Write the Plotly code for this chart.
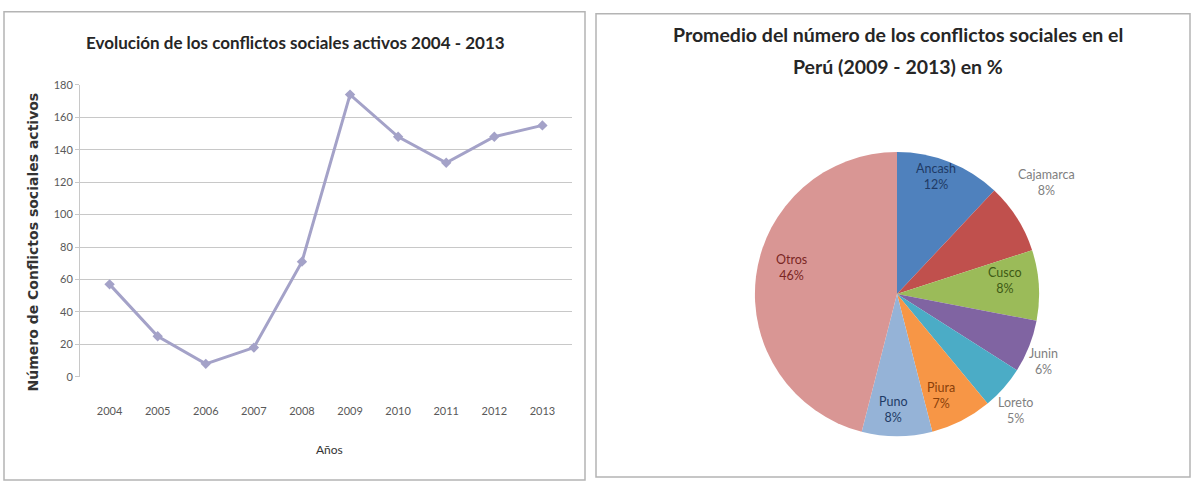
import plotly.graph_objects as go

# Conflictos sociales activos por año
years = ["2004", "2005", "2006", "2007", "2008", "2009", "2010", "2011", "2012", "2013"]
conflicts = [57, 25, 8, 18, 71, 174, 148, 132, 148, 155]

# Distribución por región (2009 - 2013), en %
regions = ["Ancash", "Cajamarca", "Cusco", "Junin", "Loreto", "Piura", "Puno", "Otros"]
shares = [12, 8, 8, 6, 5, 7, 8, 46]

# Estilo de cada sector y de su etiqueta
slice_colors = ["#4F81BD", "#C0504D", "#9BBB59", "#8064A2", "#4BACC6", "#F79646", "#95B3D7", "#D99694"]
label_colors = ["#1F3B66", "#7F7F7F", "#3E5A15", "#7F7F7F", "#7F7F7F", "#8A3F0A", "#1F3B66", "#7A2624"]
label_xy = [(936, 174), (1046, 180), (1005, 281), (1043, 364),
            (1015, 415), (941, 399), (893, 414), (791, 268)]

W, H = 1194, 485
FONT = "Lato"


def px(x):
    return x / W


def py(y):
    return 1 - y / H


fig = go.Figure()

fig.add_trace(go.Scatter(
    x=years, y=conflicts, mode="lines+markers",
    line=dict(color="#A4A2C8", width=3),
    marker=dict(symbol="diamond", size=8, color="#A4A2C8"),
    showlegend=False, xaxis="x", yaxis="y",
))

fig.add_trace(go.Pie(
    labels=regions, values=shares, sort=False, direction="clockwise", rotation=0,
    marker=dict(colors=slice_colors, line=dict(width=0)),
    textinfo="none", showlegend=False, hoverinfo="label+percent",
    domain=dict(x=[px(751), px(1043)], y=[py(441), py(149)]),
))

total = sum(shares)
pie_labels = [
    dict(text=f"{name}<br>{round(100 * v / total)}%", x=px(lx), y=py(ly),
         xref="paper", yref="paper", showarrow=False, align="center",
         xanchor="center", yanchor="middle",
         font=dict(family=FONT, size=12.5, color=c))
    for name, v, c, (lx, ly) in zip(regions, shares, label_colors, label_xy)
]

fig.update_layout(
    width=W, height=H,
    margin=dict(l=0, r=0, t=0, b=0),
    paper_bgcolor="white", plot_bgcolor="white",
    font=dict(family=FONT, color="#595959"),
    xaxis=dict(
        domain=[px(80), px(572)], anchor="y",
        type="category", showgrid=False, zeroline=False,
        showline=False, ticks="", ticklabelstandoff=26,
        tickfont=dict(size=11, color="#595959"),
    ),
    yaxis=dict(
        domain=[py(380), py(80)], anchor="x",
        range=[0, 180], dtick=20,
        showgrid=True, gridcolor="#C8C8C8", gridwidth=1,
        zeroline=False, showline=True, linecolor="#C8C8C8",
        ticks="outside", ticklen=4, tickcolor="#C8C8C8",
        tickfont=dict(size=11, color="#595959"),
    ),
    shapes=[
        dict(type="rect", xref="paper", yref="paper",
             x0=px(4), x1=px(585), y0=py(486), y1=py(5),
             line=dict(color="#B4B4B4", width=1.5), fillcolor="rgba(0,0,0,0)"),
        dict(type="rect", xref="paper", yref="paper",
             x0=px(596), x1=px(1190), y0=py(483), y1=py(7),
             line=dict(color="#B4B4B4", width=1.5), fillcolor="rgba(0,0,0,0)"),
    ],
    annotations=[
        dict(text="<b>Evolución de los conflictos sociales activos 2004 - 2013</b>",
             x=px(295), y=py(36), xref="paper", yref="paper", showarrow=False,
             font=dict(family=FONT, size=17, color="#262626"), xanchor="center", yanchor="middle"),
        dict(text="<b>Número de Conflictos sociales activos</b>",
             x=px(33), y=py(242), xref="paper", yref="paper", showarrow=False,
             textangle=-90, font=dict(family="DejaVu Sans", size=14, color="#333333"),
             xanchor="center", yanchor="middle"),
        dict(text="Años", x=px(330), y=py(455), xref="paper", yref="paper", showarrow=False,
             font=dict(family=FONT, size=12, color="#333333"), xanchor="center", yanchor="middle"),
        dict(text="<b>Promedio del número de los conflictos sociales en el</b>",
             x=px(898), y=py(28), xref="paper", yref="paper", showarrow=False,
             font=dict(family=FONT, size=19.5, color="#262626"), xanchor="center", yanchor="middle"),
        dict(text="<b>Perú (2009 - 2013) en %</b>",
             x=px(898), y=py(61), xref="paper", yref="paper", showarrow=False,
             font=dict(family=FONT, size=19.5, color="#262626"), xanchor="center", yanchor="middle"),
    ] + pie_labels,
)

fig.write_html("out.html")
